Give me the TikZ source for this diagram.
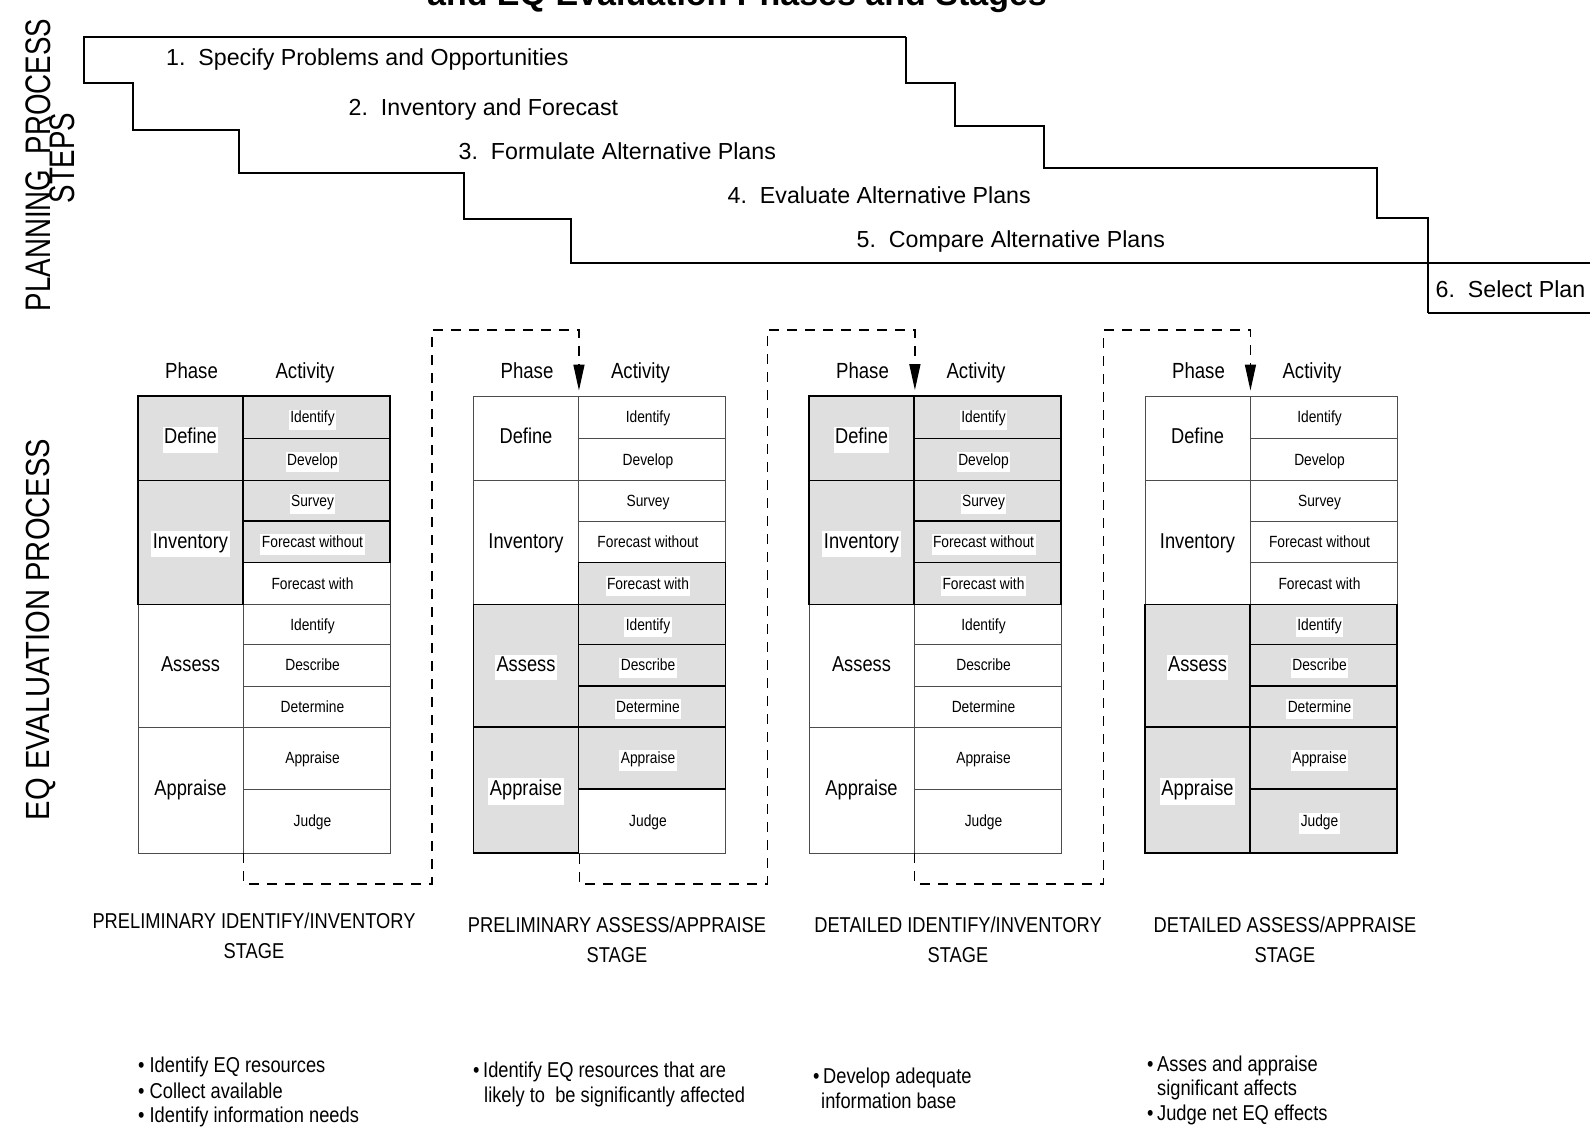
\documentclass[tikz,border=0pt]{standalone}
\usepackage{fontspec}
\setmainfont{Liberation Sans}
\newfontfamily\nf[FakeStretch=0.85]{Liberation Sans}
\newfontfamily\sidefont[FakeStretch=0.78]{Liberation Sans}
\newfontfamily\eqfont[FakeStretch=0.87]{Liberation Sans}
\usetikzlibrary{arrows.meta,calc}
\newcommand\fsz[1]{\fontsize{#1}{#1}\selectfont}
\newcommand\wbox[1]{{\setlength\fboxsep{1.5pt}\colorbox{white}{\rule[-0.35em]{0pt}{1.05em}#1}}}
% generic cells: style, name, y-centre, height, text
\newcommand\Pcell[5]{\node[#1,minimum height=#4pt] (#2) at (52.5,#3) {};
  \node[phtxt] (#2-t) at ($(#2.center)+(0,5.5)$) {#5};}
\newcommand\Acell[5]{\node[#1,minimum height=#4pt] (#2) at (178.5,#3) {};
  \node[actxt] (#2-t) at ($(#2.center)+(-4,5.6)$) {#5};}
% phase cells
\newcommand\CPdef[3]{\Pcell{#1}{#2def}{438.25}{84.5}{#3}}
\newcommand\CPinv[3]{\Pcell{#1}{#2inv}{542.5}{124}{#3}}
\newcommand\CPass[3]{\Pcell{#1}{#2ass}{665.75}{122.5}{#3}}
\newcommand\CPapp[3]{\Pcell{#1}{#2app}{790}{126}{#3}}
% activity cells
\newcommand\CAida[3]{\Acell{#1}{#2ida}{417.25}{42.5}{#3}}
\newcommand\CAdev[3]{\Acell{#1}{#2dev}{459.5}{42}{#3}}
\newcommand\CAsur[3]{\Acell{#1}{#2sur}{500.75}{40.5}{#3}}
\newcommand\CAfwo[3]{\Acell{#1}{#2fwo}{541.75}{41.5}{#3}}
\newcommand\CAfw[3]{\Acell{#1}{#2fw}{583.5}{42}{#3}}
\newcommand\CAidb[3]{\Acell{#1}{#2idb}{624.5}{40}{#3}}
\newcommand\CAdes[3]{\Acell{#1}{#2des}{665.25}{41.5}{#3}}
\newcommand\CAdet[3]{\Acell{#1}{#2det}{706.5}{41}{#3}}
\newcommand\CAapr[3]{\Acell{#1}{#2apr}{758}{62}{#3}}
\newcommand\CAjud[3]{\Acell{#1}{#2jud}{821}{64}{#3}}
\begin{document}
\begin{tikzpicture}[x=1pt,y=-1pt,
  stair/.style={line width=1.5pt, line join=miter},
  boxline/.style={line width=1.1pt},
  steptxt/.style={anchor=base west, inner sep=0pt, font=\fsz{23.2}},
  phU/.style={draw=black!70, line width=0.9pt, minimum width=105pt, inner sep=0pt},
  phS/.style={phU, draw=black, line width=1.8pt, fill=gray!25},
  acU/.style={draw=black!70, line width=0.9pt, minimum width=147pt, inner sep=0pt},
  acS/.style={acU, draw=black, line width=1.8pt, fill=gray!25},
  phtxt/.style={anchor=base, inner sep=0pt, font=\nf\fsz{21.5}},
  actxt/.style={anchor=base, inner sep=0pt, font=\nf\fsz{16.2}},
  hdr/.style={anchor=base, inner sep=0pt, font=\nf\fsz{21.9}},
  stagetxt/.style={anchor=base, inner sep=0pt, font=\nf\fsz{21.5}},
  bul/.style={anchor=base west, inner sep=0pt, font=\nf\fsz{21.5}},
  side/.style={rotate=90, anchor=base, inner sep=0pt},
  conn/.style={line width=1.4pt, dash pattern=on 10pt off 8pt,
    -{Triangle[length=26pt,width=11pt]}, shorten >=5pt}]
\useasboundingbox (0,0) rectangle (1590,1129);

% title (partly cut off at the top edge, as in the reference)
\node[anchor=base, inner sep=0pt, font=\bfseries\fsz{34}] (title) at (737,6) {and EQ Evaluation Phases and Stages};

% side labels
\node[side, font=\sidefont\fsz{35.5}] (pps) at (50.5,165) {PLANNING\ \ PROCESS};
\node[side, font=\sidefont\fsz{35.5}] (steps) at (74,158) {STEPS};
\node[side, font=\eqfont\fsz{33.5}] (eqp) at (49,629.5) {EQ EVALUATION PROCESS};

% staircase
\draw[stair] (906,37) -- (84,37) -- (84,83) -- (133,83) -- (133,130) -- (239,130)
  -- (239,173) -- (464,173) -- (464,219) -- (571,219) -- (571,263) -- (1428,263);
\draw[stair] (906,37) -- (906,83) -- (955,83) -- (955,126) -- (1044,126) -- (1044,168)
  -- (1377,168) -- (1377,218) -- (1428,218) -- (1428,313);
\draw[boxline] (1428,263) -- (1600,263);
\draw[boxline] (1428,313) -- (1600,313);

\node[steptxt] (s1) at (166,66) {1.\ \ Specify Problems and Opportunities};
\node[steptxt] (s2) at (348.5,116) {2.\ \ Inventory and Forecast};
\node[steptxt] (s3) at (458.5,159.5) {3.\ \ Formulate Alternative Plans};
\node[steptxt] (s4) at (727.5,203) {4.\ \ Evaluate Alternative Plans};
\node[steptxt] (s5) at (856.5,247.5) {5.\ \ Compare Alternative Plans};
\node[steptxt] (s6) at (1435.5,297) {6.\ \ Select Plan};

% table 1
\begin{scope}[xshift=138pt]
\node[hdr] (a-ph) at (53.5,378) {Phase};
\node[hdr] (a-ac) at (167,378) {Activity};
\CAfw{acU}{a-}{Forecast with}
\CAidb{acU}{a-}{Identify}
\CAdes{acU}{a-}{Describe}
\CAdet{acU}{a-}{Determine}
\CAapr{acU}{a-}{Appraise}
\CAjud{acU}{a-}{Judge}
\CPass{phU}{a-}{Assess}
\CPapp{phU}{a-}{Appraise}
\CPdef{phS}{a-}{\wbox{Define}}
\CPinv{phS}{a-}{\wbox{Inventory}}
\CAida{acS}{a-}{\wbox{Identify}}
\CAdev{acS}{a-}{\wbox{Develop}}
\CAsur{acS}{a-}{\wbox{Survey}}
\CAfwo{acS}{a-}{\wbox{Forecast without}}
\end{scope}

% table 2
\begin{scope}[xshift=473.5pt]
\node[hdr] (b-ph) at (53.5,378) {Phase};
\node[hdr] (b-ac) at (167,378) {Activity};
\CPdef{phU}{b-}{Define}
\CPinv{phU}{b-}{Inventory}
\CAida{acU}{b-}{Identify}
\CAdev{acU}{b-}{Develop}
\CAsur{acU}{b-}{Survey}
\CAfwo{acU}{b-}{Forecast without}
\CAjud{acU}{b-}{Judge}
\CAfw{acS}{b-}{\wbox{Forecast with}}
\CPass{phS}{b-}{\wbox{Assess}}
\CAidb{acS}{b-}{\wbox{Identify}}
\CAdes{acS}{b-}{\wbox{Describe}}
\CAdet{acS}{b-}{\wbox{Determine}}
\CPapp{phS}{b-}{\wbox{Appraise}}
\CAapr{acS}{b-}{\wbox{Appraise}}
\end{scope}

% table 3
\begin{scope}[xshift=809pt]
\node[hdr] (c-ph) at (53.5,378) {Phase};
\node[hdr] (c-ac) at (167,378) {Activity};
\CPass{phU}{c-}{Assess}
\CPapp{phU}{c-}{Appraise}
\CAidb{acU}{c-}{Identify}
\CAdes{acU}{c-}{Describe}
\CAdet{acU}{c-}{Determine}
\CAapr{acU}{c-}{Appraise}
\CAjud{acU}{c-}{Judge}
\CPdef{phS}{c-}{\wbox{Define}}
\CPinv{phS}{c-}{\wbox{Inventory}}
\CAida{acS}{c-}{\wbox{Identify}}
\CAdev{acS}{c-}{\wbox{Develop}}
\CAsur{acS}{c-}{\wbox{Survey}}
\CAfwo{acS}{c-}{\wbox{Forecast without}}
\CAfw{acS}{c-}{\wbox{Forecast with}}
\end{scope}

% table 4
\begin{scope}[xshift=1145pt]
\node[hdr] (d-ph) at (53.5,378) {Phase};
\node[hdr] (d-ac) at (167,378) {Activity};
\CPdef{phU}{d-}{Define}
\CPinv{phU}{d-}{Inventory}
\CAida{acU}{d-}{Identify}
\CAdev{acU}{d-}{Develop}
\CAsur{acU}{d-}{Survey}
\CAfwo{acU}{d-}{Forecast without}
\CAfw{acU}{d-}{Forecast with}
\CPass{phS}{d-}{\wbox{Assess}}
\CPapp{phS}{d-}{\wbox{Appraise}}
\CAidb{acS}{d-}{\wbox{Identify}}
\CAdes{acS}{d-}{\wbox{Describe}}
\CAdet{acS}{d-}{\wbox{Determine}}
\CAapr{acS}{d-}{\wbox{Appraise}}
\CAjud{acS}{d-}{\wbox{Judge}}
\end{scope}

% dashed connectors between stages
\coordinate (k1low) at (432,884);
\coordinate (k1top) at (432,330);
\coordinate (k2low) at (767.5,884);
\coordinate (k2top) at (767.5,330);
\coordinate (k3low) at (1103.5,884);
\coordinate (k3top) at (1103.5,330);
\draw[conn] (a-app.south east) |- (k1low) -- (k1top) -| (b-def.north east);
\draw[conn] (b-app.south east) |- (k2low) -- (k2top) -| (c-def.north east);
\draw[conn] (c-app.south east) |- (k3low) -- (k3top) -| (d-def.north east);

% stage labels
\node[stagetxt] (st1a) at (254,928.5) {PRELIMINARY IDENTIFY/INVENTORY};
\node[stagetxt] (st1b) at (254,958) {STAGE};
\node[stagetxt] (st2a) at (617,932.5) {PRELIMINARY ASSESS/APPRAISE};
\node[stagetxt] (st2b) at (617,962) {STAGE};
\node[stagetxt] (st3a) at (958,932.5) {DETAILED IDENTIFY/INVENTORY};
\node[stagetxt] (st3b) at (958,962) {STAGE};
\node[stagetxt] (st4a) at (1285,932.5) {DETAILED ASSESS/APPRAISE};
\node[stagetxt] (st4b) at (1285,962) {STAGE};

% bullet notes
\node[bul] (b1a) at (138,1072.5) {• Identify EQ resources};
\node[bul] (b1b) at (138,1098) {• Collect available};
\node[bul] (b1c) at (138,1122.5) {• Identify information needs};
\node[bul] (b2a) at (473,1077) {•\,Identify EQ resources that are};
\node[bul] (b2b) at (484,1102) {likely to\ \ be significantly affected};
\node[bul] (b3a) at (813,1083.5) {•\,Develop adequate};
\node[bul] (b3b) at (821,1108) {information base};
\node[bul] (b4a) at (1147,1071) {•\,Asses and appraise};
\node[bul] (b4b) at (1157,1095.5) {significant affects};
\node[bul] (b4c) at (1147,1120.5) {•\,Judge net EQ effects};
\end{tikzpicture}
\end{document}
